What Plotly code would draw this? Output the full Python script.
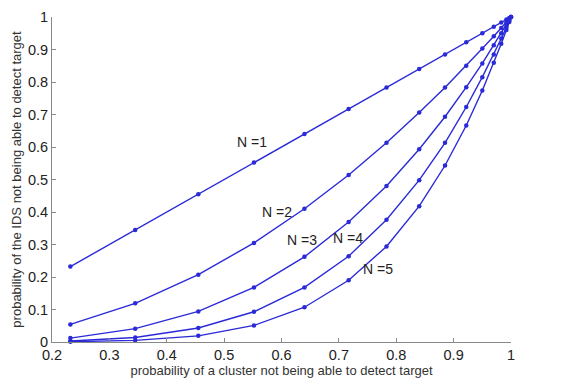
import plotly.graph_objects as go

x_vals = [0.232, 0.345, 0.455, 0.552, 0.640, 0.717, 0.783, 0.840, 0.885, 0.922, 0.950, 0.970, 0.983, 0.992, 0.997, 1.0]
y_n1 = [0.232, 0.345, 0.455, 0.552, 0.640, 0.717, 0.783, 0.840, 0.885, 0.922, 0.950, 0.970, 0.983, 0.992, 0.997, 1.0]
y_n2 = [0.054, 0.119, 0.207, 0.305, 0.410, 0.514, 0.613, 0.706, 0.783, 0.850, 0.903, 0.941, 0.966, 0.984, 0.994, 1.0]
y_n3 = [0.012, 0.041, 0.094, 0.168, 0.262, 0.369, 0.480, 0.593, 0.693, 0.784, 0.857, 0.913, 0.950, 0.976, 0.991, 1.0]
y_n4 = [0.003, 0.014, 0.043, 0.093, 0.168, 0.264, 0.376, 0.498, 0.613, 0.723, 0.815, 0.885, 0.934, 0.968, 0.988, 1.0]
y_n5 = [0.001, 0.005, 0.019, 0.051, 0.107, 0.190, 0.294, 0.418, 0.543, 0.666, 0.774, 0.859, 0.918, 0.960, 0.985, 1.0]

series = [y_n1, y_n2, y_n3, y_n4, y_n5]
labels = ["N =1", "N =2", "N =3", "N =4", "N =5"]
label_x = [0.549, 0.592, 0.636, 0.716, 0.768]
label_y = [0.615, 0.400, 0.313, 0.319, 0.224]

x_ticks = [0.2, 0.3, 0.4, 0.5, 0.6, 0.7, 0.8, 0.9, 1.0]
x_tick_text = ["0.2", "0.3", "0.4", "0.5", "0.6", "0.7", "0.8", "0.9", "1"]
y_ticks = [0, 0.1, 0.2, 0.3, 0.4, 0.5, 0.6, 0.7, 0.8, 0.9, 1.0]
y_tick_text = ["0", "0.1", "0.2", "0.3", "0.4", "0.5", "0.6", "0.7", "0.8", "0.9", "1"]

color = "#2a2ad8"
font_family = "Liberation Sans, Arial"
fig = go.Figure()
for ys in series:
    fig.add_trace(go.Scatter(
        x=x_vals, y=ys, mode="lines+markers",
        line=dict(color=color, width=1.4),
        marker=dict(color=color, size=4.5, symbol="circle"),
        showlegend=False, cliponaxis=False))

for t, lx, ly in zip(labels, label_x, label_y):
    fig.add_annotation(x=lx, y=ly, text=t, showarrow=False,
                       font=dict(family=font_family, size=14, color="#222"))

axis_common = dict(
    showgrid=False, zeroline=False, showline=True, linecolor="#888", linewidth=1,
    ticks="inside", ticklen=4, tickcolor="#888",
    tickfont=dict(family=font_family, size=14.5, color="#222"),
)
fig.update_xaxes(range=[0.2, 1.0], tickvals=x_ticks, ticktext=x_tick_text,
                 title=dict(text="probability of a cluster not being able to detect target",
                            font=dict(family=font_family, size=13, color="#333"),
                            standoff=0),
                 **axis_common)
fig.update_yaxes(range=[0, 1.0], tickvals=y_ticks, ticktext=y_tick_text,
                 title=dict(text="probability of the IDS not being able to detect target",
                            font=dict(family=font_family, size=13, color="#333"),
                            standoff=3),
                 **axis_common)
fig.update_layout(
    width=561, height=382,
    margin=dict(l=52, r=50, t=9, b=38),
    plot_bgcolor="white", paper_bgcolor="white",
)
fig.write_html("out.html")
